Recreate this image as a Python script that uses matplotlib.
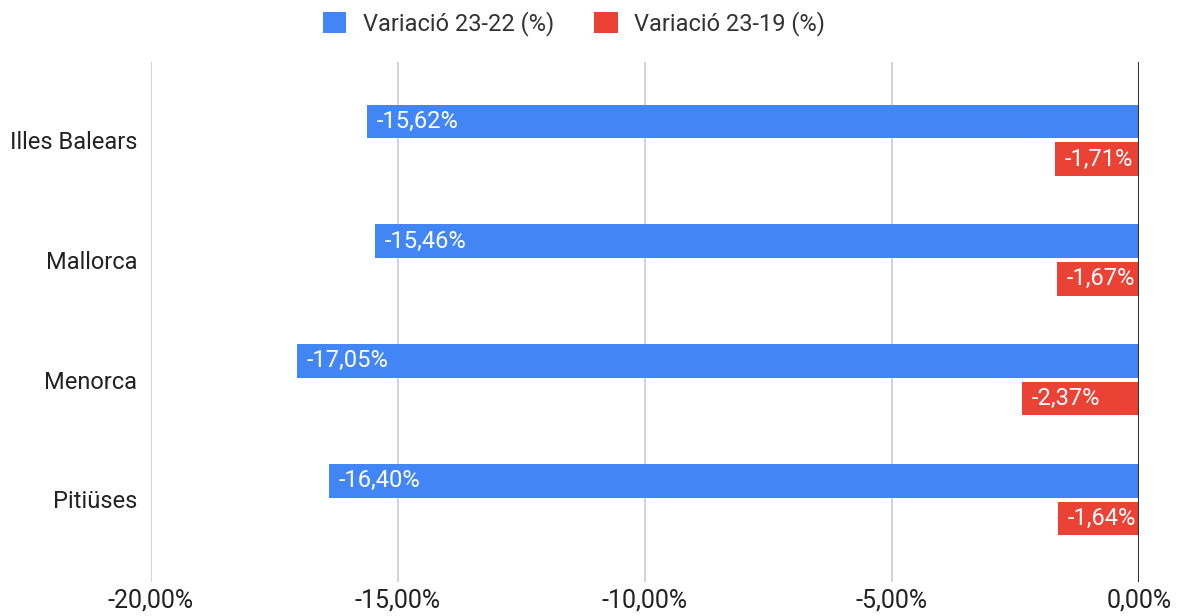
import matplotlib.pyplot as plt
import numpy as np
from matplotlib.ticker import FuncFormatter

plt.rcParams['font.family'] = ['Roboto', 'DejaVu Sans']

#%% data
categories = ['Illes Balears', 'Mallorca', 'Menorca', 'Pitiüses']
var_23_22 = [-15.62, -15.46, -17.05, -16.40]
var_23_19 = [-1.71, -1.67, -2.37, -1.64]
series_names = ['Variació 23-22 (%)', 'Variació 23-19 (%)']
xticks = [-20, -15, -10, -5, 0]

blue = '#4285F4'
red = '#EA4335'

def fmt(v):
    return ('%.2f%%' % v).replace('.', ',')

#%% plot
fig = plt.figure(figsize=(11.82, 6.16), dpi=100)
ax = fig.add_axes([151/1182, 1-582/616, (1139-151)/1182, 520/616])

y = np.arange(len(categories))
h = 0.28
b1 = ax.barh(y - 0.155, var_23_22, height=h, color=blue, label=series_names[0], zorder=3)
b2 = ax.barh(y + 0.16, var_23_19, height=h, color=red, label=series_names[1], zorder=3)

for bars, vals in [(b1, var_23_22), (b2, var_23_19)]:
    for bar, v in zip(bars, vals):
        ax.annotate(fmt(v), (v, bar.get_y() + bar.get_height()/2),
                    xytext=(7, 0), textcoords='offset points',
                    ha='left', va='center', color='white', fontsize=17, zorder=4)

ax.set_xlim(-20, 0)
ax.set_ylim(3.69, -0.65)
ax.set_xticks(xticks)
ax.xaxis.set_major_formatter(FuncFormatter(lambda v, p: fmt(v)))
ax.set_yticks(y)
ax.set_yticklabels(categories)
ax.tick_params(length=0, labelsize=17, colors='#222222')
ax.tick_params(axis='x', pad=5, labelsize=18)
ax.tick_params(axis='y', pad=10)
ax.grid(axis='x', color='#cccccc', linewidth=1.2, zorder=0)
for s in ax.spines.values():
    s.set_visible(False)
ax.axvline(0, color='#333333', linewidth=1.5, zorder=5)

fig.legend(loc='center', bbox_to_anchor=(574/1182, 1-24/616), ncol=2, frameon=False,
           fontsize=17, handlelength=1.0, handleheight=1.0, columnspacing=1.7,
           handletextpad=0.7, labelcolor='#333333')

fig.savefig('out.png', dpi=100)
